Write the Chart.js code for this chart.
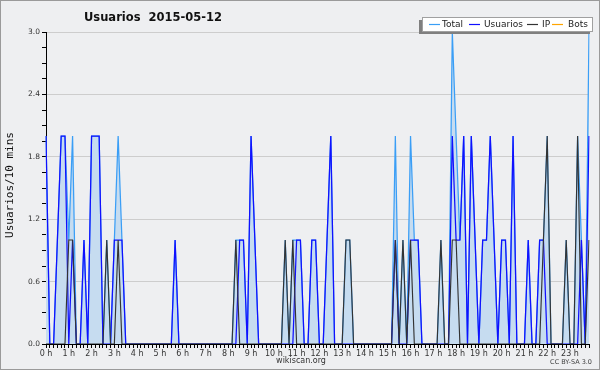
<!DOCTYPE html>
<html>
<head>
<meta charset="utf-8">
<script src="https://cdn.jsdelivr.net/npm/chart.js@4/dist/chart.umd.min.js"></script>
<style>
html,body{margin:0;padding:0;background:#EEEFF1;}
#wrap{width:600px;height:370px;position:relative;}
canvas{display:block;}
</style>
</head>
<body>
<div id="wrap"><canvas id="c" width="600" height="370"></canvas></div>
<script>
// ---- data ----
const hourLabels = ['0 h','1 h','2 h','3 h','4 h','5 h','6 h','7 h','8 h','9 h','10 h','11 h',
                    '12 h','13 h','14 h','15 h','16 h','17 h','18 h','19 h','20 h','21 h','22 h','23 h'];
const minuteSlots = ['00','10','20','30','40','50'];

const total = [
  2,0,0,1,2,2,1,2,0,0,1,0,
  2,2,2,0,1,0,1,2,1,0,0,0,
  0,0,0,0,0,0,0,0,0,0,1,0,
  0,0,0,0,0,0,0,0,0,0,0,0,
  0,0,1,1,1,0,2,1,0,0,0,0,
  0,0,0,1,0,1,1,1,0,0,1,1,
  0,0,1,2,0,0,0,1,1,0,0,0,
  0,0,0,0,0,0,0,0,2,0,1,0,
  2,1,1,0,0,0,0,0,1,0,0,3,
  2,1,2,0,2,1,0,1,1,2,1,0,
  1,1,0,2,0,0,0,1,0,0,1,1,
  2,0,0,0,0,1,0,0,2,1,0,3
];
const usuarios = [
  2,0,0,1,2,2,0,1,0,0,1,0,
  2,2,2,0,0,0,1,1,1,0,0,0,
  0,0,0,0,0,0,0,0,0,0,1,0,
  0,0,0,0,0,0,0,0,0,0,0,0,
  0,0,0,1,1,0,2,1,0,0,0,0,
  0,0,0,0,0,0,1,1,0,0,1,1,
  0,0,1,2,0,0,0,0,0,0,0,0,
  0,0,0,0,0,0,0,0,1,0,0,0,
  1,1,1,0,0,0,0,0,0,0,0,2,
  1,1,2,0,2,1,0,1,1,2,1,0,
  1,1,0,2,0,0,0,1,0,0,1,1,
  0,0,0,0,0,0,0,0,0,1,0,2
];
const ip = [
  0,0,0,0,0,0,1,1,0,0,0,0,
  0,0,0,0,1,0,0,1,0,0,0,0,
  0,0,0,0,0,0,0,0,0,0,0,0,
  0,0,0,0,0,0,0,0,0,0,0,0,
  0,0,1,0,0,0,0,0,0,0,0,0,
  0,0,0,1,0,1,0,0,0,0,0,0,
  0,0,0,0,0,0,0,1,1,0,0,0,
  0,0,0,0,0,0,0,0,1,0,1,0,
  1,0,0,0,0,0,0,0,1,0,0,1,
  1,0,0,0,0,0,0,0,0,0,0,0,
  0,0,0,0,0,0,0,0,0,0,0,1,
  2,0,0,0,0,1,0,0,2,0,0,1
];
const bots = [
  0,0,0,0,0,0,0,0,0,0,0,0,
  0,0,0,0,0,0,0,0,0,0,0,0,
  0,0,0,0,0,0,0,0,0,0,0,0,
  0,0,0,0,0,0,0,0,0,0,0,0,
  0,0,0,0,0,0,0,0,0,0,0,0,
  0,0,0,0,0,0,0,0,0,0,0,0,
  0,0,0,0,0,0,0,0,0,0,0,0,
  0,0,0,0,0,0,0,0,0,0,0,0,
  0,0,0,0,0,0,0,0,0,0,0,0,
  0,0,0,0,0,0,0,0,0,0,0,0,
  0,0,0,0,0,0,0,0,0,0,0,0,
  0,0,0,0,0,0,0,0,0,0,0,0
];
const yMajorTicks = [0, 0.6, 1.2, 1.8, 2.4, 3.0];
const yMinorPerMajor = 4;
const titleText = 'Usuarios  2015-05-12';
const yAxisTitle = 'Usuarios/10 mins';
const footerText = 'wikiscan.org';
const licenseText = 'CC BY-SA 3.0';

// ---- derived ----
const slotLabels = [];
hourLabels.forEach((h, hi) => minuteSlots.forEach(m => slotLabels.push(hi + ':' + m)));
const yTickValues = [];
for (let k = 0; k < yMajorTicks.length - 1; k++) {
  const a = yMajorTicks[k], b = yMajorTicks[k + 1];
  for (let j = 0; j < yMinorPerMajor; j++) yTickValues.push(a + (b - a) * j / yMinorPerMajor);
}
yTickValues.push(yMajorTicks[yMajorTicks.length - 1]);
const isMajor = v => yMajorTicks.some(m => Math.abs(m - v) < 1e-6);

const deco = {
  id: 'deco',
  beforeDraw(chart) {
    const c = chart.ctx;
    c.save();
    c.fillStyle = '#EEEFF1';
    c.fillRect(0, 0, chart.width, chart.height);
    c.restore();
  },
  afterDraw(chart) {
    const c = chart.ctx;
    c.save();
    // title
    c.fillStyle = '#111';
    c.font = 'bold 11.5px "DejaVu Sans"';
    c.textAlign = 'left';
    c.textBaseline = 'alphabetic';
    c.fillText(titleText, 84, 21);
    // legend
    c.fillStyle = '#7f7f7f';
    c.fillRect(419, 20, 171, 14);
    c.fillStyle = '#ffffff';
    c.fillRect(422, 17, 171, 15);
    c.strokeStyle = '#a0a0a0';
    c.lineWidth = 1;
    c.strokeRect(422.5, 17.5, 170, 14);
    const lineX = [429, 469, 527, 552];
    const textX = [442, 484, 542, 568];
    const legendOrder = ['Total', 'Usuarios', 'IP', 'Bots'];
    c.font = '9px "DejaVu Sans"';
    c.textBaseline = 'middle';
    legendOrder.forEach((name, k) => {
      const ds = chart.data.datasets.find(d => d.label === name);
      c.strokeStyle = ds.borderColor;
      c.lineWidth = 1.2;
      c.beginPath();
      c.moveTo(lineX[k], 24.5);
      c.lineTo(lineX[k] + 11, 24.5);
      c.stroke();
      c.fillStyle = '#222';
      c.fillText(name, textX[k], 25);
    });
    // y axis title
    c.save();
    c.translate(10, 185);
    c.rotate(-Math.PI / 2);
    c.textAlign = 'center';
    c.textBaseline = 'middle';
    c.fillStyle = '#111';
    c.font = '11px "DejaVu Sans Mono"';
    c.fillText(yAxisTitle, 0, 0);
    c.restore();
    // footer
    c.fillStyle = '#333';
    c.font = '8px "DejaVu Sans"';
    c.textAlign = 'center';
    c.textBaseline = 'middle';
    c.fillText(footerText, 301, 361);
    c.font = '6.5px "DejaVu Sans"';
    c.textAlign = 'right';
    c.fillStyle = '#444';
    c.fillText(licenseText, 592, 362);
    // frame
    c.strokeStyle = '#9a9a9a';
    c.lineWidth = 1;
    c.strokeRect(0.5, 0.5, chart.width - 1, chart.height - 1);
    c.restore();
  }
};

new Chart(document.getElementById('c'), {
  type: 'line',
  data: {
    labels: slotLabels,
    datasets: [
      { label: 'Total', data: total, borderColor: '#3A9EF6', backgroundColor: '#C6DCF0', fill: 'origin', borderWidth: 1.25, order: 3 },
      { label: 'Usuarios', data: usuarios, borderColor: '#1010FF', borderWidth: 1.25, fill: false, order: 2 },
      { label: 'IP', data: ip, borderColor: '#333333', borderWidth: 1.15, fill: false, order: 1 },
      { label: 'Bots', data: bots, borderColor: '#FFA500', borderWidth: 1, fill: false, order: 4 }
    ]
  },
  options: {
    responsive: false,
    animation: false,
    devicePixelRatio: 1,
    layout: { padding: { left: 0, right: 11, top: 32, bottom: 0 } },
    elements: { point: { radius: 0, hoverRadius: 0 }, line: { tension: 0 } },
    plugins: { legend: { display: false }, title: { display: false }, tooltip: { enabled: false } },
    scales: {
      x: {
        type: 'category',
        offset: false,
        z: 1,
        grid: { display: true, drawOnChartArea: false, drawTicks: true, tickLength: 4, tickColor: '#000', tickWidth: 1 },
        border: { display: true, color: '#000', width: 1 },
        ticks: {
          autoSkip: false, maxRotation: 0, minRotation: 0, padding: 1, color: '#333',
          font: { family: 'DejaVu Sans', size: 8 },
          callback: (v, i) => (i % minuteSlots.length === 0 ? hourLabels[i / minuteSlots.length] : '')
        },
        afterFit: s => { s.height = 26; }
      },
      y: {
        min: 0, max: 3,
        afterBuildTicks: s => { s.ticks = yTickValues.map(v => ({ value: v })); },
        grid: {
          color: ctx => (ctx.tick && isMajor(ctx.tick.value) ? '#CDCDCD' : 'rgba(0,0,0,0)'),
          tickColor: '#000', tickLength: 4, drawTicks: true, lineWidth: 1
        },
        border: { display: true, color: '#000', width: 1 },
        ticks: {
          autoSkip: false, padding: 2, color: '#333',
          font: { family: 'DejaVu Sans', size: 7.5 },
          callback: v => (isMajor(v) ? v.toFixed(1) : '')
        },
        afterFit: s => { s.width = 46; }
      }
    }
  },
  plugins: [deco]
});
</script>
</body>
</html>
